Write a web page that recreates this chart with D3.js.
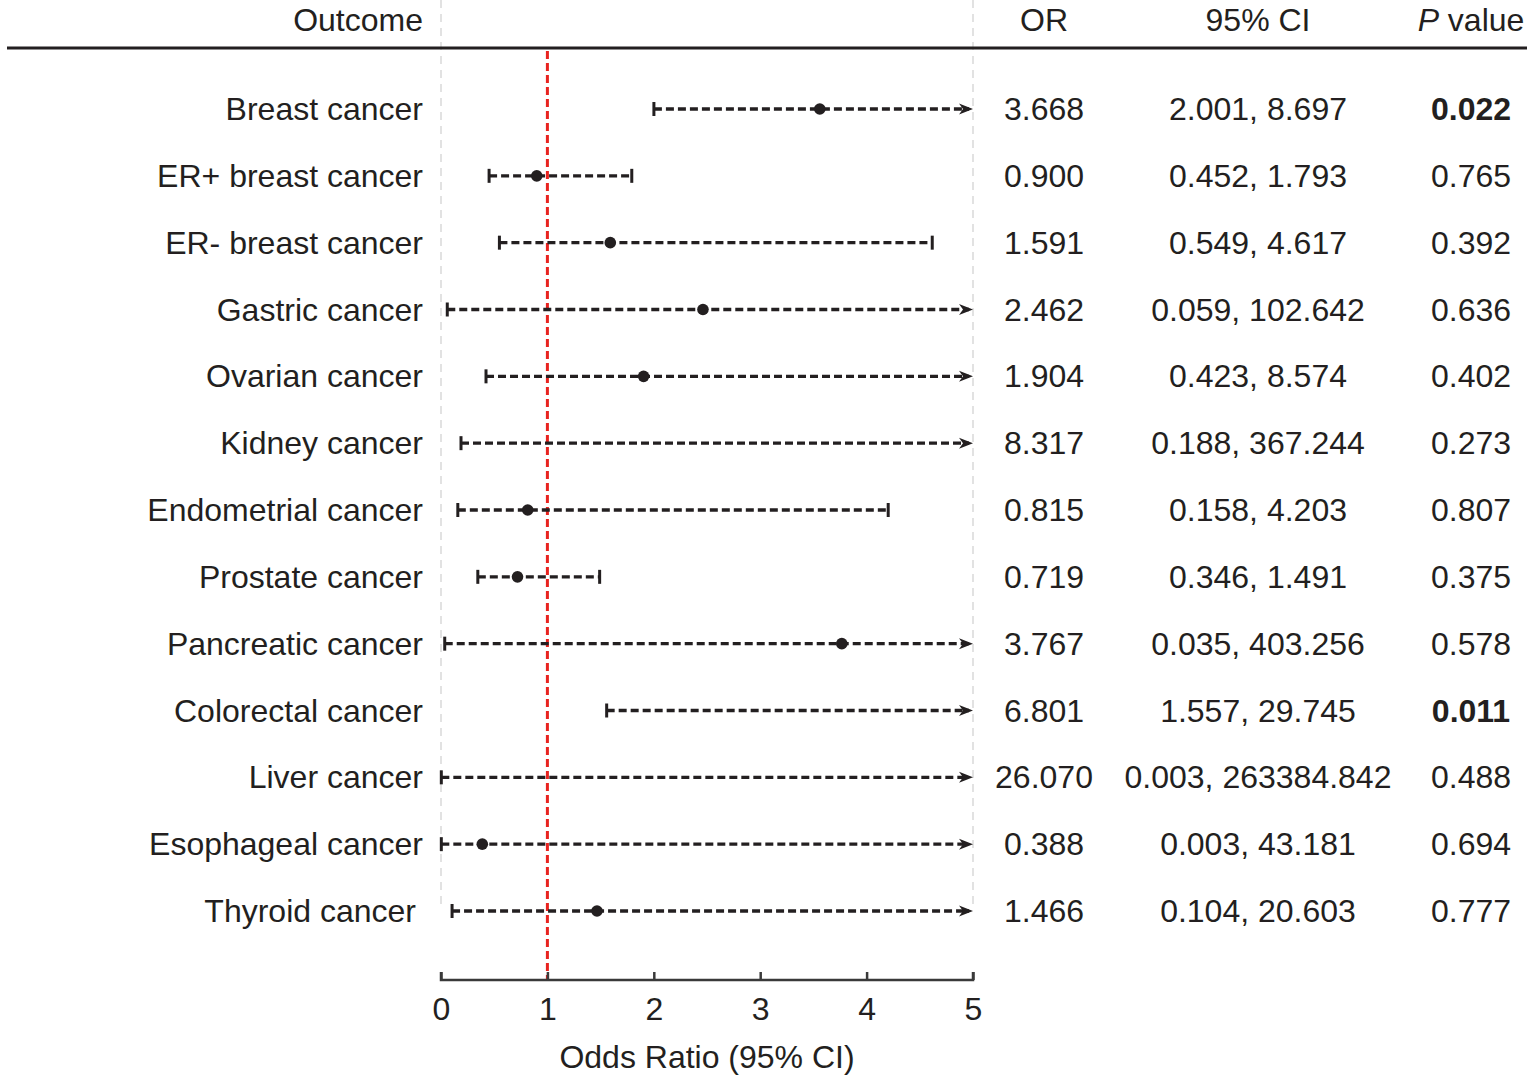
<!DOCTYPE html>
<html>
<head>
<meta charset="utf-8">
<script src="https://cdn.jsdelivr.net/npm/d3@7/dist/d3.min.js"></script>
<style>
  html, body { margin: 0; padding: 0; background: #fff; }
  svg { display: block; }
  text { font-family: "Liberation Sans", Arial, Helvetica, sans-serif; fill: #231f20; }
</style>
</head>
<body>
<svg id="chart" width="1535" height="1081"></svg>
<script>
// ---- data ----
const outcomes = ["Breast cancer","ER+ breast cancer","ER- breast cancer","Gastric cancer","Ovarian cancer","Kidney cancer","Endometrial cancer","Prostate cancer","Pancreatic cancer","Colorectal cancer","Liver cancer","Esophageal cancer","Thyroid cancer"];
const orValues = [3.668, 0.900, 1.591, 2.462, 1.904, 8.317, 0.815, 0.719, 3.767, 6.801, 26.070, 0.388, 1.466];
const ciLower = [2.001, 0.452, 0.549, 0.059, 0.423, 0.188, 0.158, 0.346, 0.035, 1.557, 0.003, 0.003, 0.104];
const ciUpper = [8.697, 1.793, 4.617, 102.642, 8.574, 367.244, 4.203, 1.491, 403.256, 29.745, 263384.842, 43.181, 20.603];
// point positions as drawn in the picture
const plotEst = [3.56, 0.900, 1.591, 2.462, 1.904, 8.317, 0.815, 0.719, 3.767, 6.801, 26.070, 0.388, 1.466];
const pValues = ["0.022","0.765","0.392","0.636","0.402","0.273","0.807","0.375","0.578","0.011","0.488","0.694","0.777"];
const orLabels = ["3.668","0.900","1.591","2.462","1.904","8.317","0.815","0.719","3.767","6.801","26.070","0.388","1.466"];
const ciLabels = ["2.001, 8.697","0.452, 1.793","0.549, 4.617","0.059, 102.642","0.423, 8.574","0.188, 367.244","0.158, 4.203","0.346, 1.491","0.035, 403.256","1.557, 29.745","0.003, 263384.842","0.003, 43.181","0.104, 20.603"];
const xTicks = [0, 1, 2, 3, 4, 5];
const xDomain = [0, 5];
const refValue = 1;

// ---- layout ----
const svg = d3.select("#chart");
const x = d3.scaleLinear().domain(xDomain).range([441, 973]);
const y = d3.scalePoint().domain(outcomes).range([109, 911]);
const axisY = 980;
const fs = 32;
const base = 11;
const ink = "#231f20";

// gray dashed verticals at plot bounds
svg.selectAll(".bound").data(xDomain).join("line")
  .attr("x1", d => x(d)).attr("x2", d => x(d))
  .attr("y1", 0).attr("y2", 908)
  .attr("stroke", "#cfcfcf").attr("stroke-width", 1.2)
  .attr("stroke-dasharray", "8,6");

// header line
svg.append("line").attr("x1", 7).attr("x2", 1527).attr("y1", 48).attr("y2", 48)
  .attr("stroke", ink).attr("stroke-width", 3);

// header texts
svg.append("text").attr("x", 423).attr("y", 31).attr("text-anchor", "end")
  .style("font-size", fs + "px").text("Outcome");
svg.append("text").attr("x", 1044).attr("y", 31).attr("text-anchor", "middle")
  .style("font-size", fs + "px").text("OR");
svg.append("text").attr("x", 1258).attr("y", 31).attr("text-anchor", "middle")
  .style("font-size", fs + "px").text("95% CI");
const ph = svg.append("text").attr("x", 1471).attr("y", 31).attr("text-anchor", "middle")
  .style("font-size", fs + "px");
ph.append("tspan").style("font-style", "italic").text("P");
ph.append("tspan").text(" value");

// red reference line
svg.append("line").attr("x1", x(refValue)).attr("x2", x(refValue))
  .attr("y1", 51).attr("y2", axisY)
  .attr("stroke", "#e8231f").attr("stroke-width", 3)
  .attr("stroke-dasharray", "8,4");

// arrow marker
svg.append("defs").append("marker")
  .attr("id", "arrow").attr("viewBox", "0 0 14 11")
  .attr("refX", 14).attr("refY", 5.5)
  .attr("markerWidth", 14).attr("markerHeight", 11)
  .attr("markerUnits", "userSpaceOnUse").attr("orient", "auto")
  .append("path").attr("d", "M0,0 L14,5.5 L0,11 L4,5.5 Z").attr("fill", ink);

const rows = outcomes.map((o, i) => ({o, i, lo: ciLower[i], hi: ciUpper[i], est: plotEst[i]}));
const maxX = xDomain[1];

// CI lines
svg.selectAll(".ci").data(rows).join("line")
  .attr("x1", d => x(Math.max(d.lo, xDomain[0])))
  .attr("x2", d => x(Math.min(d.hi, maxX)) - (d.hi > maxX ? 4 : 0))
  .attr("y1", d => y(d.o)).attr("y2", d => y(d.o))
  .attr("stroke", ink).attr("stroke-width", 3.3)
  .attr("stroke-dasharray", "8,4");

// arrows for upper bounds beyond range
svg.selectAll(".arr").data(rows.filter(d => d.hi > maxX)).join("path")
  .attr("d", d => { const xe = x(maxX), yy = y(d.o); return `M${xe - 14},${yy - 5.5}L${xe},${yy}L${xe - 14},${yy + 5.5}L${xe - 10},${yy}Z`; })
  .attr("fill", ink);

// left caps
svg.selectAll(".capL").data(rows).join("line")
  .attr("x1", d => x(d.lo)).attr("x2", d => x(d.lo))
  .attr("y1", d => y(d.o) - 7).attr("y2", d => y(d.o) + 7)
  .attr("stroke", ink).attr("stroke-width", 3);
// right caps (when within range)
svg.selectAll(".capR").data(rows.filter(d => d.hi <= maxX)).join("line")
  .attr("x1", d => x(d.hi)).attr("x2", d => x(d.hi))
  .attr("y1", d => y(d.o) - 7).attr("y2", d => y(d.o) + 7)
  .attr("stroke", ink).attr("stroke-width", 3);

// points
svg.selectAll(".pt").data(rows.filter(d => d.est <= maxX)).join("circle")
  .attr("cx", d => x(d.est)).attr("cy", d => y(d.o)).attr("r", 5.8)
  .attr("fill", ink);

// row labels
svg.selectAll(".lab").data(rows).join("text")
  .attr("x", d => d.o === "Thyroid cancer" ? 416 : 423)
  .attr("y", d => y(d.o) + base).attr("text-anchor", "end")
  .style("font-size", fs + "px").text(d => d.o);

svg.selectAll(".orv").data(rows).join("text")
  .attr("x", 1044).attr("y", d => y(d.o) + base).attr("text-anchor", "middle")
  .style("font-size", fs + "px").text(d => orLabels[d.i]);

svg.selectAll(".civ").data(rows).join("text")
  .attr("x", 1258).attr("y", d => y(d.o) + base).attr("text-anchor", "middle")
  .style("font-size", fs + "px").text(d => ciLabels[d.i]);

svg.selectAll(".pv").data(rows).join("text")
  .attr("x", 1471).attr("y", d => y(d.o) + base).attr("text-anchor", "middle")
  .style("font-size", fs + "px")
  .style("font-weight", d => parseFloat(pValues[d.i]) < 0.05 ? "bold" : "normal")
  .text(d => pValues[d.i]);

// x axis
const axis = d3.axisBottom(x).tickValues(xTicks).tickSize(-8).tickPadding(17).tickFormat(d3.format("d"));
const gAx = svg.append("g").attr("transform", `translate(0,${axisY})`).call(axis);
gAx.select(".domain").attr("d", `M${x(0)},-8V0H${x(5)}V-8`).attr("stroke", "#3a3a3a").attr("stroke-width", 2.5).attr("fill", "none");
gAx.selectAll(".tick line").attr("stroke", "#3a3a3a").attr("stroke-width", 2.5);
gAx.selectAll(".tick text").style("font-size", fs + "px")
  .style("font-family", "'Liberation Sans', Arial, sans-serif").attr("fill", ink);

svg.append("text").attr("x", 707).attr("y", 1068).attr("text-anchor", "middle")
  .style("font-size", fs + "px").text("Odds Ratio (95% CI)");
</script>
</body>
</html>
